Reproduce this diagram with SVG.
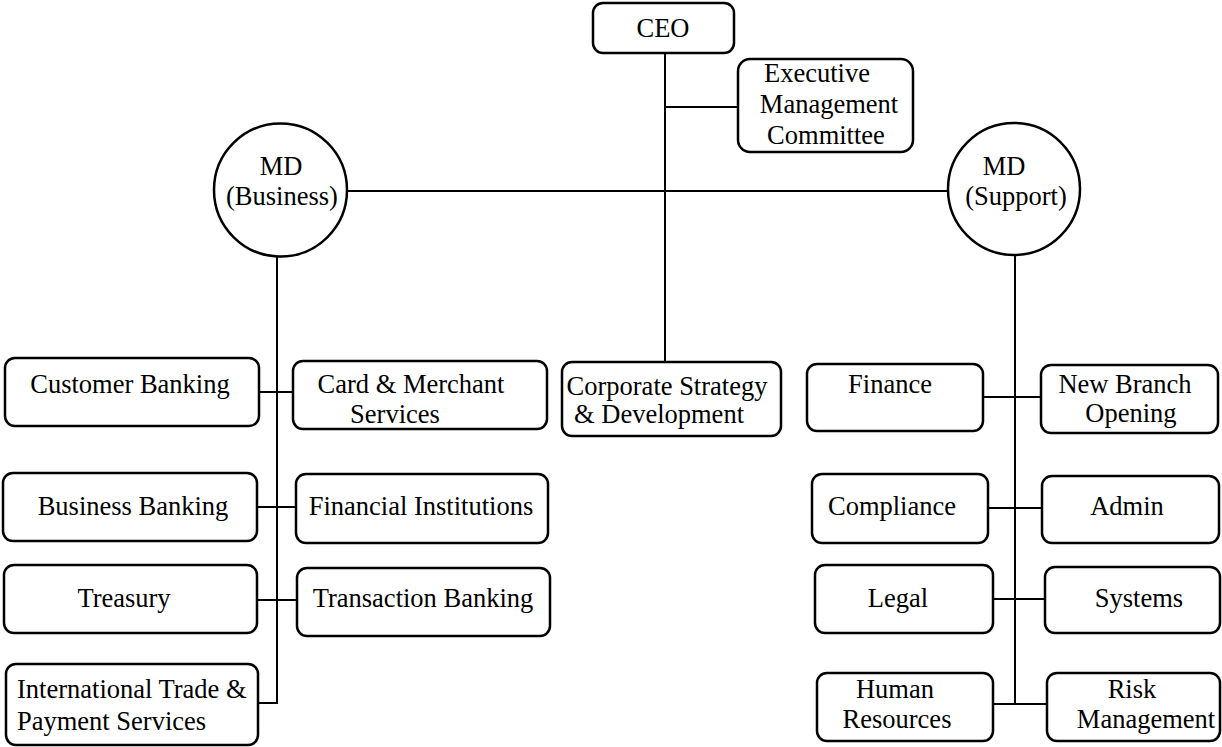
<svg xmlns="http://www.w3.org/2000/svg" width="1222" height="747" viewBox="0 0 1222 747">
<style>
.box{fill:#fff;stroke:#000;stroke-width:2.5}
.c{fill:none;stroke:#000;stroke-width:2}
text{font-family:"Liberation Serif","Times New Roman",serif;font-size:26.5px;fill:#000;text-anchor:middle}
</style>
<rect width="1222" height="747" fill="#fff"/>
<g id="connectors">
<line class="c" x1="665" y1="53" x2="665" y2="362"/>
<line class="c" x1="665" y1="107" x2="738" y2="107"/>
<line class="c" x1="347" y1="191" x2="948" y2="191"/>
<polyline class="c" points="277,257 277,703 258,703"/>
<line class="c" x1="259" y1="392" x2="293" y2="392"/>
<line class="c" x1="257" y1="507" x2="296" y2="507"/>
<line class="c" x1="257" y1="600" x2="297" y2="600"/>
<line class="c" x1="1015" y1="255" x2="1015" y2="704"/>
<line class="c" x1="983" y1="397" x2="1041" y2="397"/>
<line class="c" x1="988" y1="508" x2="1042" y2="508"/>
<line class="c" x1="993" y1="599" x2="1045" y2="599"/>
<line class="c" x1="993" y1="704" x2="1047" y2="704"/>
</g>
<g id="ceo"><rect class="box" x="593" y="3" width="141" height="50" rx="10"/><text x="663" y="37">CEO</text></g>
<g id="emc"><rect class="box" x="738" y="59" width="175" height="93" rx="12"/><text x="817" y="82">Executive</text><text x="829" y="113">Management</text><text x="826" y="144">Committee</text></g>
<g id="md-business"><circle class="box" cx="280.5" cy="190" r="66.5"/><text x="281" y="175">MD</text><text x="282" y="205">(Business)</text></g>
<g id="md-support"><circle class="box" cx="1014" cy="189" r="66"/><text x="1004" y="175">MD</text><text x="1016" y="205">(Support)</text></g>
<g id="customer-banking"><rect class="box" x="5" y="358" width="254" height="68" rx="10"/><text x="130" y="393">Customer Banking</text></g>
<g id="card-merchant"><rect class="box" x="293" y="361" width="254" height="68" rx="10"/><text x="411" y="393">Card &amp; Merchant</text><text x="395" y="423">Services</text></g>
<g id="business-banking"><rect class="box" x="3" y="473" width="254" height="68" rx="10"/><text x="133" y="515">Business Banking</text></g>
<g id="financial-institutions"><rect class="box" x="296" y="474" width="252" height="69" rx="10"/><text x="421" y="515">Financial Institutions</text></g>
<g id="treasury"><rect class="box" x="4" y="565" width="253" height="68" rx="10"/><text x="124" y="607">Treasury</text></g>
<g id="transaction-banking"><rect class="box" x="297" y="568" width="253" height="68" rx="10"/><text x="423" y="607">Transaction Banking</text></g>
<g id="itps"><rect class="box" x="6" y="664" width="252" height="81" rx="10"/><text x="17" y="698" style="text-anchor:start">International Trade &amp;</text><text x="17" y="730" style="text-anchor:start">Payment Services</text></g>
<g id="corporate-strategy"><rect class="box" x="562" y="362" width="219" height="74" rx="10"/><text x="667" y="395">Corporate Strategy</text><text x="659" y="423">&amp; Development</text></g>
<g id="finance"><rect class="box" x="807" y="364" width="176" height="67" rx="10"/><text x="890" y="393">Finance</text></g>
<g id="new-branch"><rect class="box" x="1041" y="365" width="177" height="68" rx="10"/><text x="1125" y="393">New Branch</text><text x="1131" y="422">Opening</text></g>
<g id="compliance"><rect class="box" x="812" y="474" width="176" height="69" rx="10"/><text x="892" y="515">Compliance</text></g>
<g id="admin"><rect class="box" x="1042" y="476" width="177" height="67" rx="10"/><text x="1127" y="515">Admin</text></g>
<g id="legal"><rect class="box" x="815" y="565" width="178" height="68" rx="10"/><text x="898" y="607">Legal</text></g>
<g id="systems"><rect class="box" x="1045" y="567" width="175" height="66" rx="10"/><text x="1139" y="607">Systems</text></g>
<g id="human-resources"><rect class="box" x="817" y="673" width="176" height="68" rx="10"/><text x="895" y="698">Human</text><text x="897" y="728">Resources</text></g>
<g id="risk-management"><rect class="box" x="1047" y="673" width="173" height="68" rx="10"/><text x="1132" y="698">Risk</text><text x="1146" y="728">Management</text></g>
</svg>
